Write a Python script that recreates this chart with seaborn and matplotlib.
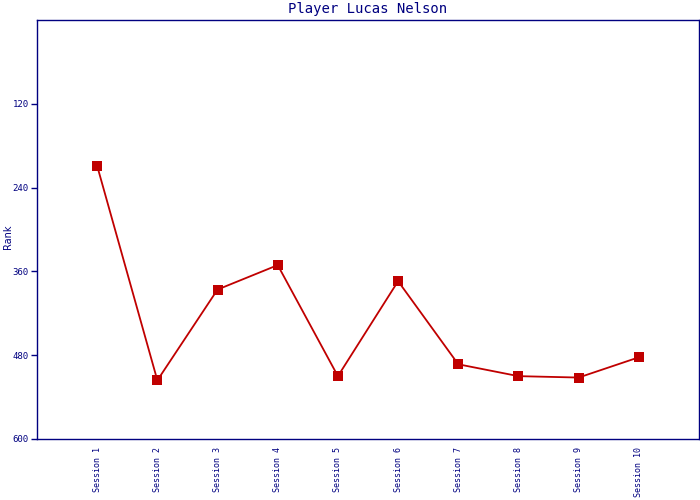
import pandas as pd
import matplotlib
matplotlib.use("Agg")
import matplotlib.pyplot as plt
import seaborn as sns

# dados
sessoes = ["Session 1", "Session 2", "Session 3", "Session 4", "Session 5",
           "Session 6", "Session 7", "Session 8", "Session 9", "Session 10"]
rank = [209, 516, 386, 351, 510, 374, 493, 510, 512, 483]
y_ticks = [120, 240, 360, 480, 600]

sns.set_style("white")
plt.rcParams["font.family"] = ["DejaVu Sans Mono"]

navy = "#000080"
vermelho = "#c00000"

df = pd.DataFrame({"pos": range(1, len(sessoes) + 1), "Rank": rank})

fig = plt.figure(figsize=(7, 5), dpi=100)
ax = fig.add_axes([37 / 700, 61 / 500, 662 / 700, 419 / 500])
sns.lineplot(data=df, x="pos", y="Rank", ax=ax, color=vermelho, linewidth=1.3,
             marker="s", markersize=7, markeredgewidth=0, markerfacecolor=vermelho)

ax.set_xlim(0, len(sessoes) + 1)
ax.set_ylim(600, 0)
ax.set_xticks(df["pos"])
ax.set_xticklabels(sessoes, rotation=90, fontsize=6, color=navy)
ax.set_yticks(y_ticks)
ax.set_yticklabels([str(v) for v in y_ticks], fontsize=6.5, color=navy)
ax.tick_params(axis="x", length=0, pad=6)
ax.tick_params(axis="y", length=4, width=1, color=navy, direction="out", left=True, pad=2)
for s in ax.spines.values():
    s.set_color(navy)
    s.set_linewidth(1)

ax.set_xlabel("")
ax.set_ylabel("")
fig.text(8 / 700, 1 - 237 / 500, "Rank", rotation=90, ha="center", va="center",
         fontsize=7, color=navy, family="DejaVu Sans")
ax.set_title("Player Lucas Nelson", fontsize=10, color=navy, pad=5)

fig.savefig("out.png", dpi=100)
